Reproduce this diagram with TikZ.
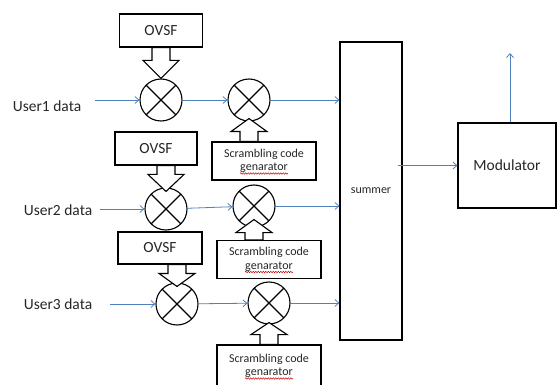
\documentclass[tikz,border=0pt]{standalone}
\usepackage{fontspec}
\setmainfont{Carlito}
\usetikzlibrary{arrows.meta,calc,decorations.pathmorphing}
\definecolor{flowblue}{RGB}{79,129,189}
% hollow block arrow from #1 to #2, head length #3
\newcommand{\bigarrow}[3]{%
  \draw[blk] let \p1=(#1), \p2=(#2), \n1={ifthenelse(\y2>\y1,#3,-#3)} in
    ({\x2-9pt},\y1) -- ({\x2-9pt},{\y2-\n1*1pt}) -- ({\x2-18pt},{\y2-\n1*1pt}) -- (\x2,\y2)
    -- ({\x2+18pt},{\y2-\n1*1pt}) -- ({\x2+9pt},{\y2-\n1*1pt}) -- ({\x2+9pt},\y1) -- cycle;}
% spell checker mark under second line
\newcommand{\typo}[2]{%
  \draw[typo] ([xshift=-24pt,yshift=#2]#1.center) -- ++(48,0);}

\begin{document}
\begin{tikzpicture}[x=1pt,y=-1pt,
  box/.style={draw, line width=1.1pt, inner sep=0pt, text=black!85,
    font=\fontsize{15.5}{18}\selectfont},
  gen/.style={box, minimum width=104pt, minimum height=38pt, align=center,
    font=\fontsize{12}{13.5}\selectfont},
  mult/.style={circle, draw, line width=1.1pt, minimum size=42pt, inner sep=0pt,
    path picture={\draw[line width=1.1pt]
      (path picture bounding box.north west) -- (path picture bounding box.south east)
      (path picture bounding box.north east) -- (path picture bounding box.south west);}},
  blk/.style={draw, fill=white, line width=1.1pt, line join=miter},
  flow/.style={draw=flowblue, line width=0.8pt, -{Straight Barb[length=4pt,width=7pt]}},
  datatext/.style={font=\fontsize{15.5}{18}\selectfont, text=black!85},
  typo/.style={draw=red!80!black, line width=0.5pt, decorate,
    decoration={snake, amplitude=0.7pt, segment length=2.5pt}}]
  \useasboundingbox (0,0) rectangle (557,385);

  % user data
  \node[datatext] (u1) at (47,106) {User1 data};
  \node[datatext] (u2) at (58,210) {User2 data};
  \node[datatext] (u3) at (58,304) {User3 data};
  \coordinate (in1) at (95,100);
  \coordinate (in2) at (100,209);
  \coordinate (in3) at (110,304);

  % OVSF codes
  \node[box, minimum width=83pt, minimum height=33pt] (ovsf1) at (161,30.5) {OVSF};
  \node[box, minimum width=82pt, minimum height=33pt] (ovsf2) at (156,148.5) {OVSF};
  \node[box, minimum width=84pt, minimum height=32pt] (ovsf3) at (160,248) {OVSF};

  % multipliers
  \node[mult] (m1) at (161,100) {};
  \node[mult] (m2) at (166,209) {};
  \node[mult] (m3) at (177,304) {};
  \node[mult] (s1) at (249,100) {};
  \node[mult] (s2) at (254,206) {};
  \node[mult] (s3) at (269,303) {};

  % scrambling
  \node[gen] (sc1) at (264,161) {Scrambling code\\genarator};
  \node[gen] (sc2) at (269,259.5) {Scrambling code\\genarator};
  \node[gen, minimum height=42pt] (sc3) at (269,366) {Scrambling code\\genarator};
  \typo{sc1}{-12.5pt}
  \typo{sc2}{-12.5pt}
  \typo{sc3}{-12.5pt}

  % summer and modulator
  \node[box, minimum width=62pt, minimum height=298pt,
    font=\fontsize{12}{14}\selectfont] (summer) at (371,191) {summer};
  \node[box, minimum width=98pt, minimum height=85pt] (mod) at (507,165.5) {Modulator};
  \coordinate (out) at (510,53);

  % block arrows
  \bigarrow{ovsf1.south}{m1.north}{18}
  \bigarrow{ovsf2.south}{[yshift=-4pt]m2.north}{17}
  \bigarrow{ovsf3.south}{[yshift=-4pt]m3.north}{13}
  \bigarrow{sc1.north}{[yshift=3pt]s1.south}{13}
  \bigarrow{sc2.north}{[yshift=8pt]s2.south}{13}
  \bigarrow{sc3.north}{[yshift=2pt]s3.south}{12}

  % signal flow
  \draw[flow] (in1) -- (m1);
  \draw[flow] (in2) -- (m2);
  \draw[flow] (in3) -- (m3);
  \draw[flow] (m1) -- (s1);
  \draw[flow] (m2) -- (s2);
  \draw[flow] (m3) -- (s3);
  \draw[flow] (s1) -- (s1 -| summer.west);
  \draw[flow] (s2) -- (s2 -| summer.west);
  \draw[flow] (s3) -- (s3 -| summer.west);
  \draw[flow] ([xshift=-5pt]summer.east |- mod.west) -- (mod.west);
  \draw[flow] (out |- mod.north) -- (out);
\end{tikzpicture}
\end{document}
